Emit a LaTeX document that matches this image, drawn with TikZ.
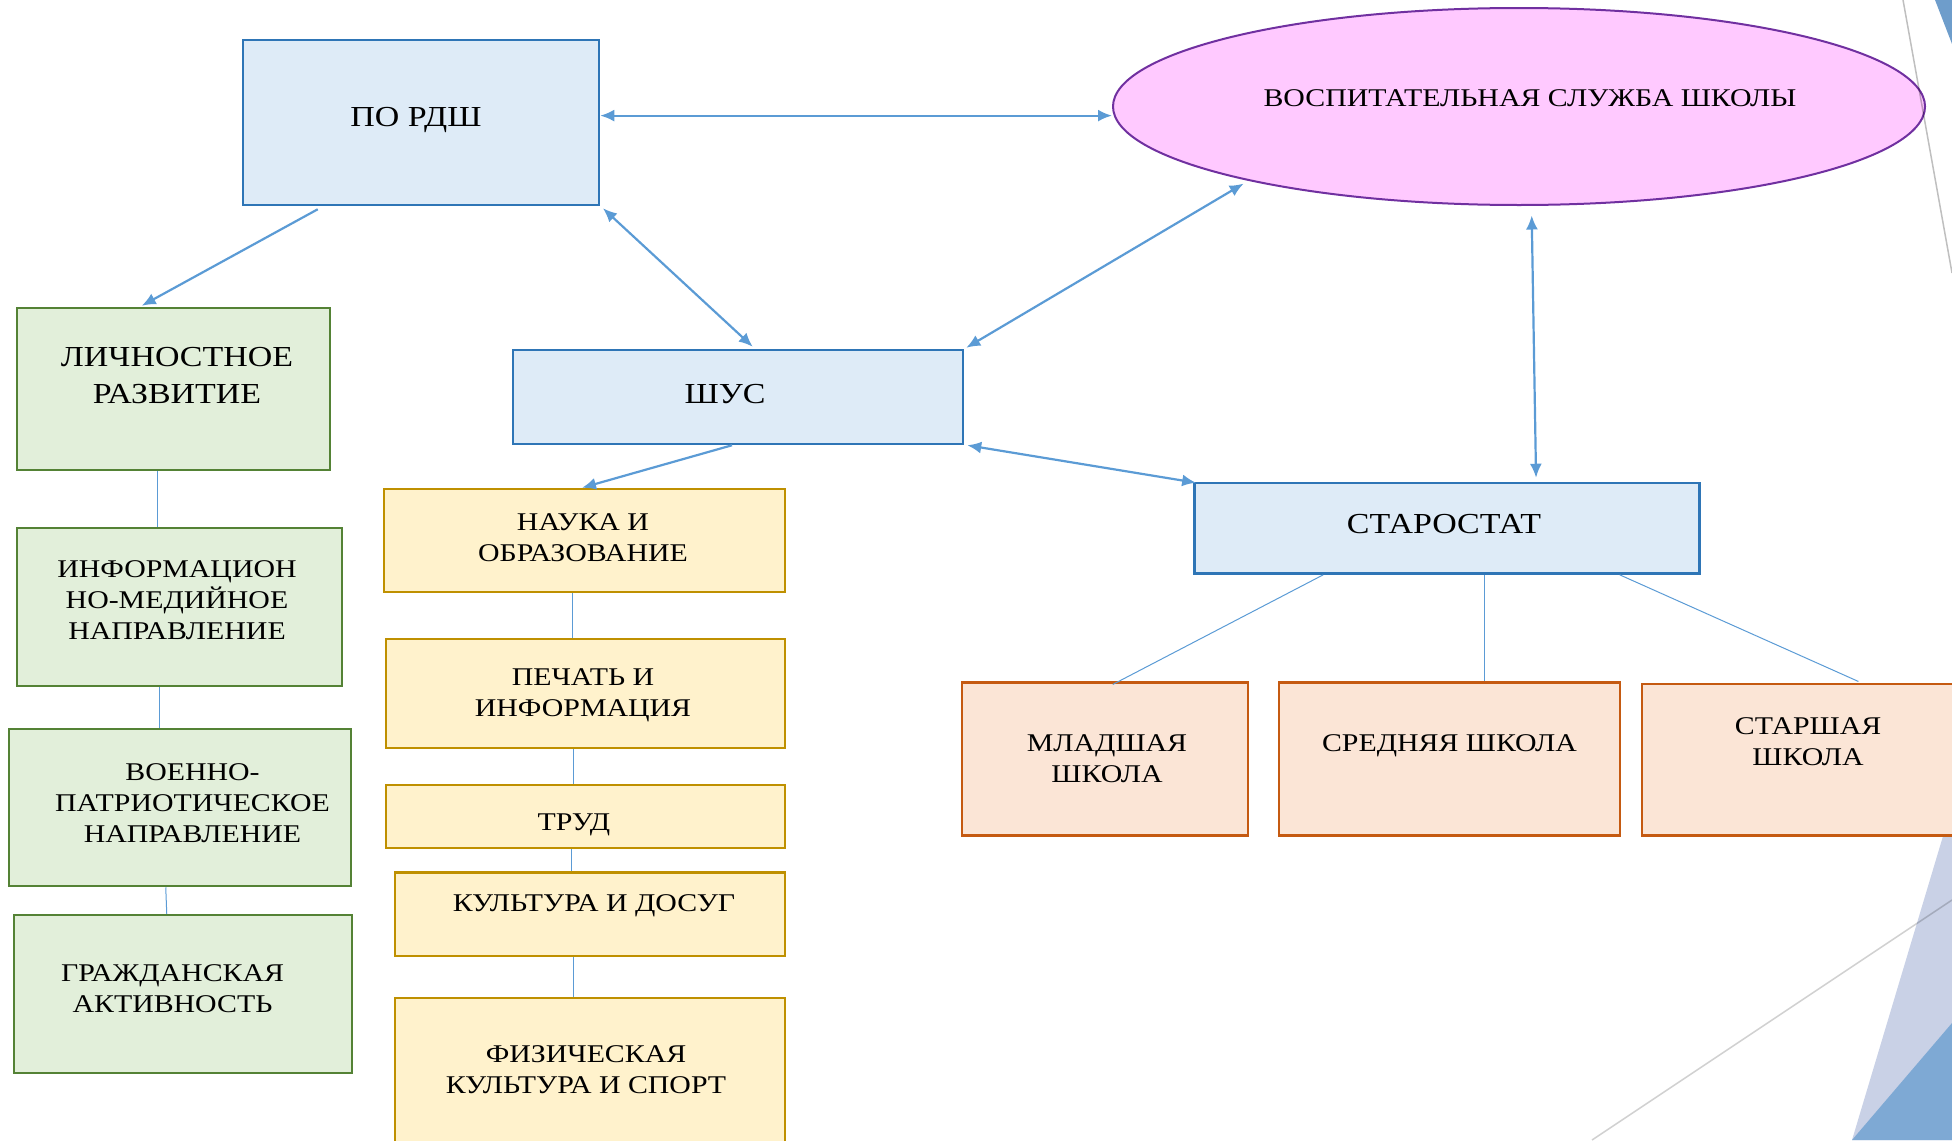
\documentclass[tikz,border=0pt]{standalone}
\usepackage{fontspec}
\setmainfont{Liberation Serif}[FakeStretch=1.17]
\usetikzlibrary{arrows.meta,calc,fit,shapes.geometric}
\definecolor{bluefill}{HTML}{DEEBF7}
\definecolor{blueline}{HTML}{2E75B6}
\definecolor{pinkfill}{HTML}{FFC9FF}
\definecolor{purpline}{HTML}{7030A0}
\definecolor{greenfill}{HTML}{E2EFDA}
\definecolor{greenline}{HTML}{548235}
\definecolor{yellowfill}{HTML}{FFF2CC}
\definecolor{yellowline}{HTML}{BF9000}
\definecolor{orangefill}{HTML}{FBE5D6}
\definecolor{orangeline}{HTML}{C55A11}
\definecolor{conn}{HTML}{5B9BD5}
\definecolor{decolight}{HTML}{C9D1E6}
\definecolor{decodark}{HTML}{7EA9D4}
\definecolor{decotop}{HTML}{6E9DCB}
\newcommand\bigf{\fontsize{14.5}{18.5}\selectfont}
\newcommand\smallf{\fontsize{12.75}{15.5}\selectfont}
\begin{document}
\begin{tikzpicture}[x=0.5pt,y=-0.5pt,
  box/.style={draw, line width=1.25pt, inner sep=0pt},
  bluebox/.style={box, fill=bluefill, draw=blueline},
  greenbox/.style={box, fill=greenfill, draw=greenline},
  yellowbox/.style={box, fill=yellowfill, draw=yellowline},
  orangebox/.style={box, fill=orangefill, draw=orangeline},
  txt/.style={align=center, inner sep=0pt, font=\smallf},
  bigtxt/.style={txt, font=\bigf},
  flat/.style={text depth=0pt},
  arr/.style={draw=conn, line width=1.1pt, -{Latex[length=7pt,width=6pt]}},
  darr/.style={draw=conn, line width=1.1pt, {Latex[length=7pt,width=6pt]}-{Latex[length=7pt,width=6pt]}},
  thinline/.style={draw=conn, line width=0.5pt}]
\useasboundingbox (0,0) rectangle (1952,1140);
\clip (0,0) rectangle (1952,1140);

% background decoration
\fill[decolight] (1952,806) -- (1952,1140) -- (1852,1140) -- cycle;
\fill[decodark] (1952,1023) -- (1952,1140) -- (1852,1140) -- cycle;

% boxes
\node[bluebox, fit={(243,40) (599,205)}] (pordsh) {};
\node[ellipse, draw=purpline, fill=pinkfill, line width=1pt, inner sep=0pt,
      minimum width=406pt, minimum height=98.5pt] (vss) at (1519,106.5) {};
\node[greenbox, fit={(17,308) (330,470)}] (lich) {};
\node[bluebox, fit={(513,350) (963,444)}] (shus) {};
\node[yellowbox, fit={(384,489) (785,592)}] (nauka) {};
\node[greenbox, fit={(17,528) (342,686)}] (info) {};
\node[greenbox, fit={(9,729) (351,886)}] (voen) {};
\node[greenbox, fit={(14,915) (352,1073)}] (grazh) {};
\node[yellowbox, fit={(386,639) (785,748)}] (pechat) {};
\node[yellowbox, fit={(386,785) (785,848)}] (trud) {};
\node[yellowbox, fit={(395,872.5) (785,956)}] (kult) {};
\node[yellowbox, fit={(395,998) (785,1160)}] (fiz) {};
\node[bluebox, fit={(1194.4,483) (1699.7,573.6)}] (star) {};
\node[orangebox, fit={(962,682.7) (1248,835.5)}] (mlad) {};
\node[orangebox, fit={(1279,682.7) (1620,835.5)}] (sred) {};
\node[orangebox, fit={(1642,684) (1975,835.5)}] (starsh) {};

% small border irregularities
\draw[white, line width=0.6pt] ($(trud.south west)+(86,1)$) -- ($(trud.south west)+(289,1)$);
\draw[white, line width=0.6pt] ($(voen.north east)+(1,19)$) -- ($(voen.north east)+(1,136)$);

% connectors
\draw[darr] ($(pordsh.east)+(0,-6.9)$) -- ($(vss.west)+(0,9.1)$);
\draw[arr] ($(pordsh.south west)+(76,3)$) -- ($(lich.north west)+(126,-1)$);
\draw[darr] ($(pordsh.south east)+(2.7,2)$) -- ($(shus.north west)+(241,-2)$);
\draw[darr] ($(shus.north east)+(2,-1)$) -- ($(vss.center)+(-275.4,77.1)$);
\draw[darr] ($(shus.south east)+(3,0)$) -- ($(star.north west)+(3,1)$);
\draw[darr] ($(vss.south)+(12.7,9.5)$) -- ($(star.north)+(89,-4)$);
\draw[arr] ($(shus.south)+(-6,0)$) -- ($(nauka.north)+(-2.5,0)$);

\draw[thinline] ($(lich.south west)+(142,0)$) -- ($(info.north west)+(142,0)$);
\draw[thinline] ($(info.south west)+(143.5,0)$) -- ($(voen.north west)+(151.5,0)$);
\draw[thinline] ($(voen.south west)+(158,0)$) -- ($(grazh.north west)+(154,0)$);
\draw[thinline] ($(nauka.south west)+(190,0)$) -- ($(pechat.north west)+(188,0)$);
\draw[thinline] ($(pechat.south west)+(189,0)$) -- ($(trud.north west)+(189,0)$);
\draw[thinline] ($(trud.south west)+(187,0)$) -- ($(kult.north west)+(178,0)$);
\draw[thinline] ($(kult.south west)+(180,0)$) -- ($(fiz.north west)+(180,0)$);
\draw[thinline] ($(star.south west)+(130,0)$) -- ($(mlad.north west)+(152,3)$);
\draw[thinline] ($(star.south west)+(291.6,0)$) -- ($(sred.north west)+(207,0)$);
\draw[thinline] ($(star.south west)+(426.6,0)$) -- ($(starsh.north west)+(217.6,-1.3)$);

% texts
\node[bigtxt, flat] (t-pordsh) at (416,117) {ПО РДШ};
\node[txt, flat] (t-vss) at (1530,98) {ВОСПИТАТЕЛЬНАЯ СЛУЖБА ШКОЛЫ};
\node[bigtxt] (t-lich) at (177,375.5) {ЛИЧНОСТНОЕ\\РАЗВИТИЕ};
\node[bigtxt, flat] (t-shus) at (725,394) {ШУС};
\node[txt] (t-nauka) at (583,538) {НАУКА И\\ОБРАЗОВАНИЕ};
\node[txt] (t-info) at (177,600) {ИНФОРМАЦИОН\\НО-МЕДИЙНОЕ\\НАПРАВЛЕНИЕ};
\node[txt] (t-voen) at (192.5,803) {ВОЕННО-\\ПАТРИОТИЧЕСКОЕ\\НАПРАВЛЕНИЕ};
\node[txt] (t-grazh) at (172.5,989) {ГРАЖДАНСКАЯ\\АКТИВНОСТЬ};
\node[txt] (t-pechat) at (583,695) {ПЕЧАТЬ И\\ИНФОРМАЦИЯ};
\node[txt, flat] (t-trud) at (574,822) {ТРУД};
\node[txt, flat] (t-kult) at (594,903) {КУЛЬТУРА И ДОСУГ};
\node[txt] (t-fiz) at (586,1069.5) {ФИЗИЧЕСКАЯ\\КУЛЬТУРА И СПОРТ};
\node[bigtxt, flat] (t-star) at (1444,524) {СТАРОСТАТ};
\node[txt] (t-mlad) at (1107,759) {МЛАДШАЯ\\ШКОЛА};
\node[txt, flat] (t-sred) at (1449.5,743) {СРЕДНЯЯ ШКОЛА};
\node[txt] (t-starsh) at (1808,742) {СТАРШАЯ\\ШКОЛА};

% foreground decoration lines
\draw[black, opacity=0.25, line width=0.75pt] (1903,0) -- (1952,273);
\draw[black, opacity=0.18, line width=0.75pt] (1592,1140) -- (1952,900);
\fill[decotop] (1935,0) -- (1952,0) -- (1952,44) -- cycle;
\end{tikzpicture}
\end{document}
